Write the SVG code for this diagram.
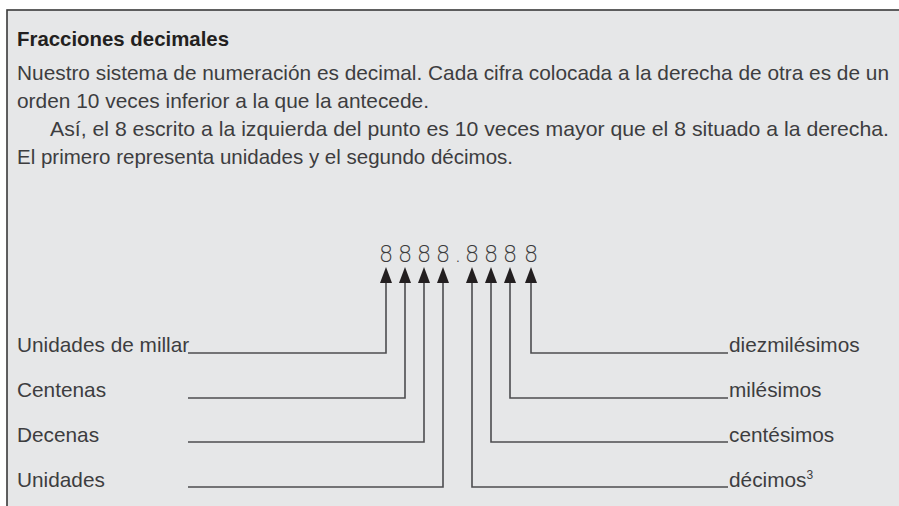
<svg xmlns="http://www.w3.org/2000/svg" width="899" height="506" viewBox="0 0 899 506">
<defs>
<style>
.t{font-family:"Liberation Sans",Arial,sans-serif;font-size:20.8px;fill:#3d3d3f}
.h{font-family:"Liberation Sans",Arial,sans-serif;font-size:21px;font-weight:bold;fill:#231f20}
.d{font-family:"DejaVu Sans","Liberation Sans",sans-serif;font-size:23px;font-weight:200;fill:#3a3a3a;text-anchor:middle}
.c{fill:none;stroke:#4d4d4f;stroke-width:1.6}
.a{fill:#231f20}
</style>
</defs>
<rect x="7" y="10" width="900" height="510" fill="#e6e7e8" stroke="#3a3a3a" stroke-width="1.6"/>
<g id="texto">
<text class="h" x="17" y="46" textLength="212" lengthAdjust="spacingAndGlyphs">Fracciones decimales</text>
<text class="t" x="17" y="80" textLength="872" lengthAdjust="spacingAndGlyphs">Nuestro sistema de numeración es decimal. Cada cifra colocada a la derecha de otra es de un</text>
<text class="t" x="17" y="108" textLength="412" lengthAdjust="spacingAndGlyphs">orden 10 veces inferior a la que la antecede.</text>
<text class="t" x="50" y="136" textLength="839" lengthAdjust="spacingAndGlyphs">Así, el 8 escrito a la izquierda del punto es 10 veces mayor que el 8 situado a la derecha.</text>
<text class="t" x="17" y="164" textLength="496" lengthAdjust="spacingAndGlyphs">El primero representa unidades y el segundo décimos.</text>
</g>
<g id="numero">
<text class="d" x="386" y="262">8</text>
<text class="d" x="405" y="262">8</text>
<text class="d" x="424" y="262">8</text>
<text class="d" x="443" y="262">8</text>
<text class="d" x="458" y="262">.</text>
<text class="d" x="472" y="262">8</text>
<text class="d" x="491" y="262">8</text>
<text class="d" x="510" y="262">8</text>
<text class="d" x="531" y="262">8</text>
</g>
<g id="connectors">
<path class="c" d="M386,282 V353 H188"/>
<path class="c" d="M405,282 V398 H188"/>
<path class="c" d="M424,282 V442 H188"/>
<path class="c" d="M443,282 V487 H188"/>
<path class="c" d="M472,282 V487 H728"/>
<path class="c" d="M491,282 V442 H728"/>
<path class="c" d="M510,282 V398 H728"/>
<path class="c" d="M531,282 V353 H728"/>
<path class="a" d="M380,283 L386,267 L392,283 Z"/>
<path class="a" d="M399,283 L405,267 L411,283 Z"/>
<path class="a" d="M418,283 L424,267 L430,283 Z"/>
<path class="a" d="M437,283 L443,267 L449,283 Z"/>
<path class="a" d="M466,283 L472,267 L478,283 Z"/>
<path class="a" d="M485,283 L491,267 L497,283 Z"/>
<path class="a" d="M504,283 L510,267 L516,283 Z"/>
<path class="a" d="M525,283 L531,267 L537,283 Z"/>
</g>
<g id="label-millar"><text class="t" x="17" y="352">Unidades de millar</text></g>
<g id="label-centenas"><text class="t" x="17" y="397">Centenas</text></g>
<g id="label-decenas"><text class="t" x="17" y="442">Decenas</text></g>
<g id="label-unidades"><text class="t" x="17" y="487">Unidades</text></g>
<g id="label-diezmilesimos"><text class="t" x="729" y="352">diezmilésimos</text></g>
<g id="label-milesimos"><text class="t" x="729" y="397">milésimos</text></g>
<g id="label-centesimos"><text class="t" x="729" y="442">centésimos</text></g>
<g id="label-decimos"><text class="t" x="729" y="487">décimos<tspan font-size="12" dy="-8">3</tspan></text></g>
</svg>
